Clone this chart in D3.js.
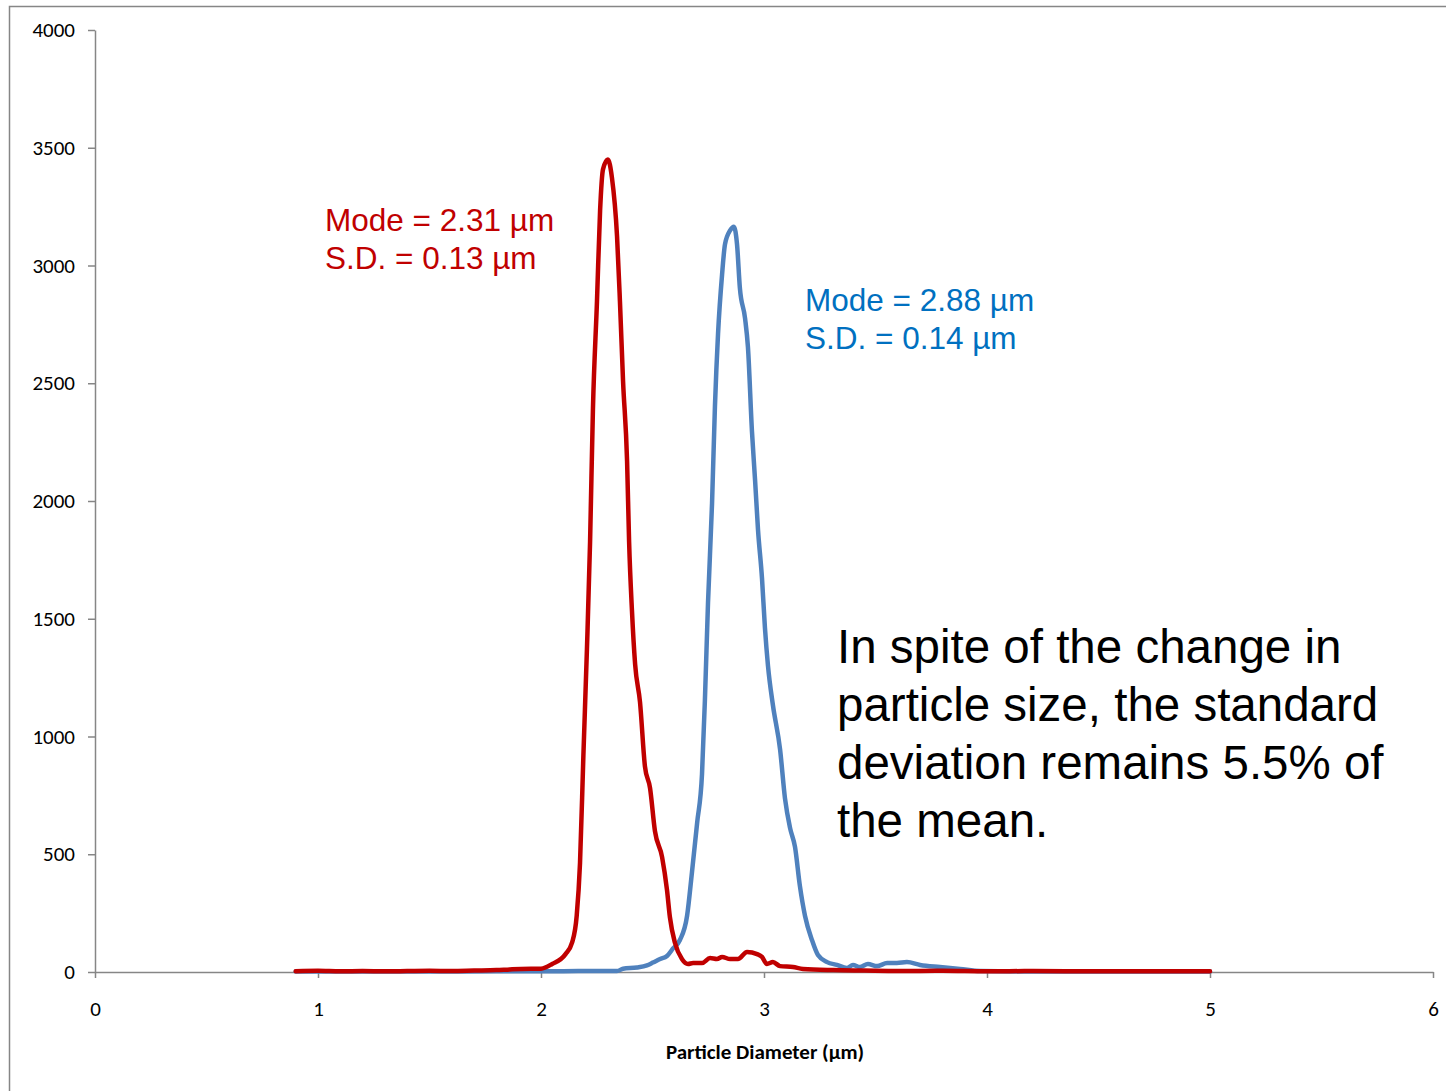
<!DOCTYPE html>
<html>
<head>
<meta charset="utf-8">
<script src="https://cdn.jsdelivr.net/npm/d3@7"></script>
<style>
  body { margin: 0; background: #fff; }
</style>
</head>
<body>
<div id="chart"></div>
<script>
// Particle size distributions: [diameter µm, count]
const redSeries = [
  [0.90, 3], [1.00, 5], [1.10, 3], [1.20, 4], [1.30, 3], [1.40, 4], [1.50, 5], [1.60, 4],
  [1.70, 6], [1.80, 8], [1.86, 11], [1.91, 13], [2.00, 14], [2.05, 34], [2.11, 76],
  [2.14, 127], [2.16, 238], [2.175, 463], [2.19, 917], [2.206, 1371], [2.22, 1825],
  [2.233, 2394], [2.251, 2848], [2.265, 3234], [2.278, 3408], [2.30, 3450], [2.318, 3374],
  [2.341, 3124], [2.354, 2848], [2.368, 2508], [2.386, 2169], [2.395, 1829], [2.408, 1532],
  [2.422, 1307], [2.444, 1146], [2.466, 874], [2.489, 781], [2.511, 598], [2.543, 488],
  [2.565, 348], [2.578, 233], [2.601, 123], [2.632, 55], [2.659, 34], [2.682, 38],
  [2.722, 38], [2.758, 59], [2.789, 55], [2.812, 64], [2.848, 55], [2.883, 55],
  [2.924, 85], [2.969, 76], [2.991, 64], [3.013, 34], [3.04, 42], [3.072, 25],
  [3.13, 21], [3.175, 13], [3.31, 8], [3.45, 6], [3.6, 4], [3.8, 5], [4.0, 3],
  [4.2, 4], [4.5, 3], [4.8, 3], [5.0, 3]
];

const blueSeries = [
  [0.90, 2], [1.20, 2], [1.50, 2], [1.80, 3], [2.00, 3], [2.20, 4], [2.341, 4],
  [2.368, 14], [2.43, 19], [2.475, 28], [2.502, 40], [2.534, 55], [2.565, 68],
  [2.592, 100], [2.623, 136], [2.655, 238], [2.677, 424], [2.70, 632], [2.722, 840],
  [2.735, 1154], [2.749, 1570], [2.767, 1990], [2.78, 2402], [2.794, 2712], [2.812, 2962],
  [2.825, 3090], [2.848, 3149], [2.865, 3165], [2.879, 3090], [2.892, 2903], [2.915, 2776],
  [2.928, 2653], [2.946, 2296], [2.96, 2088], [2.973, 1880], [2.991, 1672], [3.004, 1464],
  [3.018, 1299], [3.04, 1133], [3.072, 946], [3.094, 738], [3.117, 611], [3.139, 531],
  [3.161, 365], [3.184, 238], [3.215, 136], [3.242, 72], [3.283, 42], [3.327, 30],
  [3.372, 17], [3.399, 30], [3.43, 21], [3.466, 34], [3.507, 25], [3.552, 38],
  [3.596, 38], [3.641, 42], [3.70, 30], [3.789, 21], [3.879, 13], [3.969, 4],
  [4.2, 2], [4.6, 2], [5.0, 2]
];

const xTicks = [0, 1, 2, 3, 4, 5, 6];
const yTicks = [0, 500, 1000, 1500, 2000, 2500, 3000, 3500, 4000];

const redNote = ["Mode = 2.31 µm", "S.D. = 0.13 µm"];
const blueNote = ["Mode = 2.88 µm", "S.D. = 0.14 µm"];
const bodyNote = [
  "In spite of the change in",
  "particle size, the standard",
  "deviation remains 5.5% of",
  "the mean."
];

const W = 1446, H = 1091;
const axisColor = "#868686";
const tickFont = "Calibri, Carlito, 'Open Sans', sans-serif";

const svg = d3.select("#chart").append("svg")
    .attr("width", W)
    .attr("height", H);

// outer chart frame (runs off the right and bottom of the picture)
svg.append("rect")
    .attr("x", 9.5).attr("y", 6.5)
    .attr("width", 1600).attr("height", 1300)
    .attr("fill", "none")
    .attr("stroke", axisColor)
    .attr("stroke-width", 1.5);

const x = d3.scaleLinear().domain([0, 6]).range([95, 1433]);
const y = d3.scaleLinear().domain([0, 4000]).range([972, 30]);

// y axis
const gy = svg.append("g")
    .attr("transform", "translate(95,0)")
    .call(d3.axisLeft(y).tickValues(yTicks).tickFormat(d3.format("d"))
        .tickSize(7).tickSizeOuter(0).tickPadding(13));
gy.select(".domain").attr("stroke", axisColor).attr("stroke-width", 1.5);
gy.selectAll(".tick line").attr("stroke", axisColor).attr("stroke-width", 1.5);
gy.selectAll(".tick text")
    .attr("font-family", tickFont)
    .attr("font-size", 21)
    .attr("fill", "#000");

// x axis
const gx = svg.append("g")
    .attr("transform", "translate(0,972)")
    .call(d3.axisBottom(x).tickValues(xTicks).tickFormat(d3.format("d"))
        .tickSize(6).tickSizeOuter(0).tickPadding(23));
gx.select(".domain").attr("stroke", axisColor).attr("stroke-width", 1.5);
gx.selectAll(".tick line").attr("stroke", axisColor).attr("stroke-width", 1.5);
gx.selectAll(".tick text")
    .attr("font-family", tickFont)
    .attr("font-size", 21)
    .attr("fill", "#000");

// x axis title
svg.append("text")
    .attr("x", 765)
    .attr("y", 1059)
    .attr("text-anchor", "middle")
    .attr("font-family", tickFont)
    .attr("font-size", 21)
    .attr("font-weight", "bold")
    .text("Particle Diameter (µm)");

// lines
const line = d3.line()
    .x(d => x(d[0]))
    .y(d => y(d[1]))
    .curve(d3.curveMonotoneX);

svg.append("path")
    .datum(blueSeries)
    .attr("fill", "none")
    .attr("stroke", "#4F81BD")
    .attr("stroke-width", 4.5)
    .attr("stroke-linejoin", "round")
    .attr("stroke-linecap", "round")
    .attr("d", line);

svg.append("path")
    .datum(redSeries)
    .attr("fill", "none")
    .attr("stroke", "#C00000")
    .attr("stroke-width", 4.5)
    .attr("stroke-linejoin", "round")
    .attr("stroke-linecap", "round")
    .attr("d", line);

// annotations
function note(lines, x0, y0, step, size, color) {
    svg.append("text")
        .attr("font-family", "Arial, 'Liberation Sans', sans-serif")
        .attr("font-size", size)
        .attr("fill", color)
        .selectAll("tspan")
        .data(lines)
        .join("tspan")
        .attr("x", x0)
        .attr("y", (d, i) => y0 + i * step)
        .text(d => d);
}

note(redNote, 325, 231, 38, 31.5, "#C00000");
note(blueNote, 805, 311, 38, 31.5, "#0070C0");
note(bodyNote, 837, 663, 58, 47.5, "#000");
</script>
</body>
</html>
